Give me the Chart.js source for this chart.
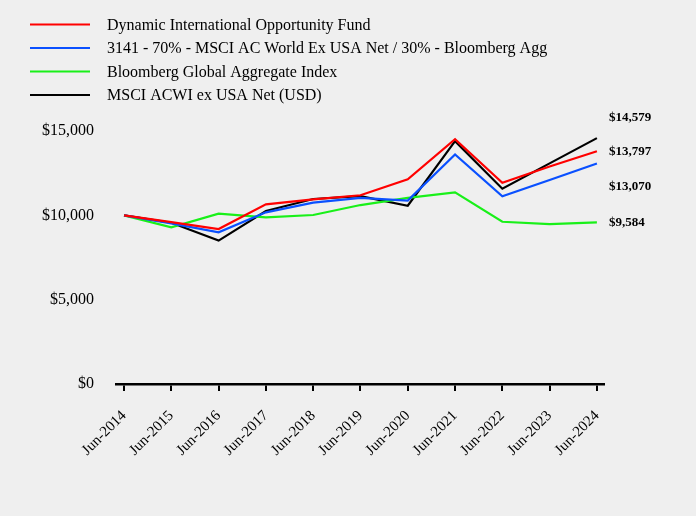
<!DOCTYPE html>
<html>
<head>
<meta charset="utf-8">
<script src="https://cdn.jsdelivr.net/npm/chart.js@4/dist/chart.umd.min.js"></script>
<style>
  html, body { margin: 0; padding: 0; background: #efefef; }
  #wrap { width: 696px; height: 516px; position: relative; }
</style>
</head>
<body>
<div id="wrap"><canvas id="myChart"></canvas></div>
<script>
const years = ["Jun-2014", "Jun-2015", "Jun-2016", "Jun-2017", "Jun-2018", "Jun-2019",
  "Jun-2020", "Jun-2021", "Jun-2022", "Jun-2023", "Jun-2024"];

const fund = [10000, 9600, 9190, 10650, 10950, 11190, 12140, 14520, 11930, 12900, 13797];
const blend = [10000, 9520, 8990, 10180, 10750, 11040, 10870, 13610, 11130, 12090, 13070];
const globalAgg = [10000, 9290, 10100, 9880, 10020, 10610, 11040, 11360, 9620, 9480, 9584];
const acwi = [10000, 9560, 8500, 10260, 10970, 11140, 10570, 14400, 11580, 13080, 14579];

const names = ["Dynamic International Opportunity Fund",
  "3141 - 70% - MSCI AC World Ex USA Net / 30% - Bloomberg Agg",
  "Bloomberg Global Aggregate Index",
  "MSCI ACWI ex USA Net (USD)"];
const colors = ["#ff0000", "#0a50ff", "#19f019", "#000000"];
const endLabels = ["$13,797", "$13,070", "$9,584", "$14,579"];

const serif = "'Liberation Serif', 'Times New Roman', serif";

function pts(arr) {
  return arr.map((v, i) => ({ x: i, y: v }));
}

// legend and end labels drawn by hand
const extras = {
  id: 'extras',
  afterDraw(chart) {
    const ctx = chart.ctx;
    ctx.save();
    // legend
    ctx.font = "16px " + serif;
    ctx.textBaseline = 'middle';
    const rows = [24.5, 48, 71.5, 95];
    names.forEach((n, i) => {
      ctx.strokeStyle = colors[i];
      ctx.lineWidth = 2;
      ctx.beginPath();
      ctx.moveTo(30, rows[i]);
      ctx.lineTo(90, rows[i]);
      ctx.stroke();
      ctx.fillStyle = '#000';
      ctx.fillText(n, 107, rows[i] + 1);
    });
    // end value labels
    const y = chart.scales.y;
    const last = [fund, blend, globalAgg, acwi].map(a => a[a.length - 1]);
    const nudge = [0, 23, 0, -20];
    ctx.font = "bold 13px " + serif;
    last.forEach((v, i) => {
      ctx.fillText(endLabels[i], 609, y.getPixelForValue(v) + nudge[i]);
    });
    ctx.restore();
  }
};

const ctx = document.getElementById('myChart');
new Chart(ctx, {
  type: 'line',
  data: {
    datasets: [
      { label: names[0], data: pts(fund), borderColor: colors[0] },
      { label: names[1], data: pts(blend), borderColor: colors[1] },
      { label: names[2], data: pts(globalAgg), borderColor: colors[2] },
      { label: names[3], data: pts(acwi), borderColor: colors[3] }
    ]
  },
  options: {
    responsive: true,
    maintainAspectRatio: false,
    animation: false,
    elements: {
      line: { tension: 0, borderWidth: 2.2 },
      point: { radius: 0 }
    },
    layout: { padding: { top: 131, right: 92, left: 0, bottom: 0 } },
    plugins: {
      legend: { display: false },
      tooltip: { enabled: false }
    },
    scales: {
      x: {
        type: 'linear',
        min: -0.17,
        max: 10.15,
        border: { display: true, color: '#000', width: 2.5 },
        grid: { drawOnChartArea: false, drawTicks: true, tickLength: 7, color: '#000', lineWidth: 2 },
        ticks: {
          stepSize: 1,
          includeBounds: false,
          autoSkip: false,
          minRotation: 45,
          maxRotation: 45,
          padding: 16,
          color: '#000',
          font: { family: serif, size: 15 },
          callback: v => years[v] || ''
        },
        afterFit: s => { s.height = 132; }
      },
      y: {
        min: 0,
        max: 15000,
        border: { display: false },
        grid: { display: false },
        ticks: {
          stepSize: 5000,
          padding: 14,
          color: '#000',
          font: { family: serif, size: 16 },
          callback: v => '$' + v.toLocaleString('en-US')
        },
        afterFit: s => { s.width = 116; }
      }
    }
  },
  plugins: [extras]
});
</script>
</body>
</html>
